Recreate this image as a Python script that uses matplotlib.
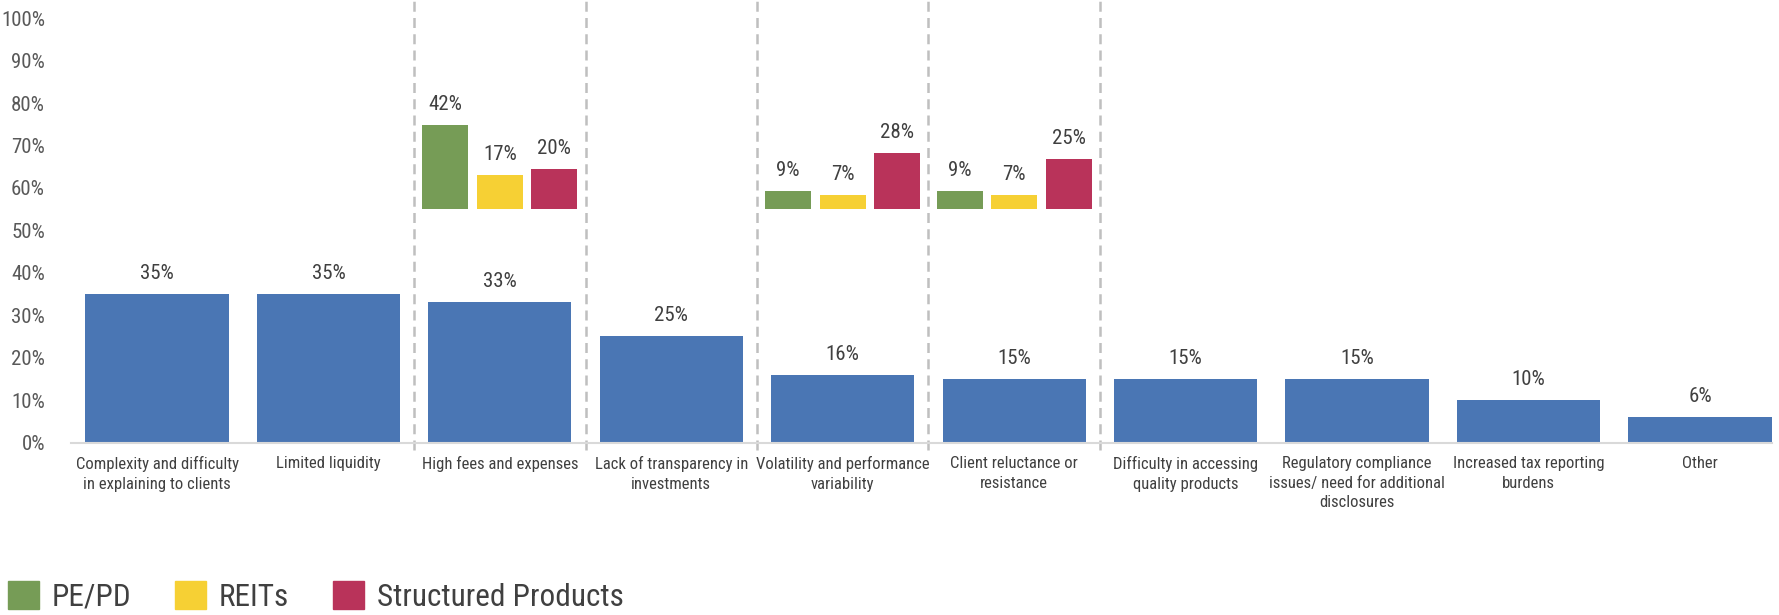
import numpy as np
import matplotlib.pyplot as plt
from matplotlib import font_manager as fm
from matplotlib.patches import Patch

# prefer a narrow face; fall back to Roboto with smaller sizes
available = {(f.name, f.stretch) for f in fm.fontManager.ttflist}
names = {n for n, _ in available}
if 'Roboto Condensed' in names:
    face, stretch, scale = 'Roboto Condensed', 'normal', 1.0
elif 'Liberation Sans Narrow' in names:
    face, stretch, scale = 'Liberation Sans Narrow', 'normal', 1.0
elif ('DejaVu Sans', 'condensed') in available or ('DejaVu Sans', 'semi-condensed') in available:
    face, stretch, scale = 'DejaVu Sans', 'condensed', 0.85
else:
    face, stretch, scale = 'Roboto', 'normal', 0.85
plt.rcParams['font.family'] = [face, 'DejaVu Sans']
plt.rcParams['font.stretch'] = stretch

categories = [
    'Complexity and difficulty\nin explaining to clients',
    'Limited liquidity',
    'High fees and expenses',
    'Lack of transparency in\ninvestments',
    'Volatility and performance\nvariability',
    'Client reluctance or\nresistance',
    'Difficulty in accessing\nquality products',
    'Regulatory compliance\nissues/ need for additional\ndisclosures',
    'Increased tax reporting\nburdens',
    'Other',
]
overall = [35, 35, 33, 25, 16, 15, 15, 15, 10, 6]

# breakdown by product type for three of the challenges
breakdown_idx = [2, 4, 5]
pe_pd = [42, 9, 9]
reits = [17, 7, 7]
structured = [20, 28, 25]
series_names = ['PE/PD', 'REITs', 'Structured Products']

blue = '#4a76b4'
colors = ['#769c56', '#f6d034', '#b9335a']
text_col = '#404040'

fig = plt.figure(figsize=(17.79, 6.15), dpi=100)
ax = fig.add_axes([71.3 / 1779, (615 - 442.5) / 615, 1700.3 / 1779, 442.5 / 615])

x = np.arange(len(categories))
ax.bar(x, overall, width=0.835, color=blue, zorder=2)
for xi, v in zip(x, overall):
    ax.annotate(f'{v}%', (xi, v), xytext=(0, 8), textcoords='offset points',
                ha='center', va='bottom', fontsize=15 * scale, color=text_col)

# small grouped bars sitting above the main bars
base = 55.1
k = 0.47
offs = [-0.318, 0, 0.318]
for j, vals in enumerate([pe_pd, reits, structured]):
    for gi, v in zip(breakdown_idx, vals):
        xx = gi + offs[j]
        ax.bar(xx, v * k, bottom=base, width=0.268, color=colors[j], zorder=2)
        ax.annotate(f'{v}%', (xx, base + v * k), xytext=(0, 8), textcoords='offset points',
                    ha='center', va='bottom', fontsize=15 * scale, color=text_col)

ymax = 104.3
ax.vlines([1.5, 2.5, 3.5, 4.5, 5.5], -1.8, ymax, colors='#bfbfbf', linestyles=(0, (4, 2.5)),
          linewidth=1.8, clip_on=False, zorder=1)

ax.set_xlim(-0.5, 9.418)
ax.set_ylim(0, ymax)
ax.set_yticks(np.arange(0, 101, 10))
ax.set_yticklabels([f'{t}%' for t in range(0, 101, 10)])
ax.set_xticks(x)
ax.set_xticklabels(categories, fontsize=12 * scale, color=text_col, linespacing=1.35)
ax.tick_params(axis='x', length=0, pad=10)
ax.tick_params(axis='y', length=0, pad=19, labelsize=15 * scale, labelcolor='#595959')
for s in ['top', 'right', 'left']:
    ax.spines[s].set_visible(False)
ax.spines['bottom'].set_color('#d9d9d9')
ax.spines['bottom'].set_linewidth(1.5)

handles = [Patch(color=c) for c in colors]
fig.legend(handles, series_names, loc='lower left', bbox_to_anchor=(8 / 1779, 3 / 615),
           ncol=3, frameon=False, fontsize=22.5 * scale, handlelength=1.0,
           handleheight=1.0, handletextpad=0.4, columnspacing=1.4, borderpad=0,
           borderaxespad=0, labelcolor=text_col)

fig.savefig('out.png', dpi=100)
